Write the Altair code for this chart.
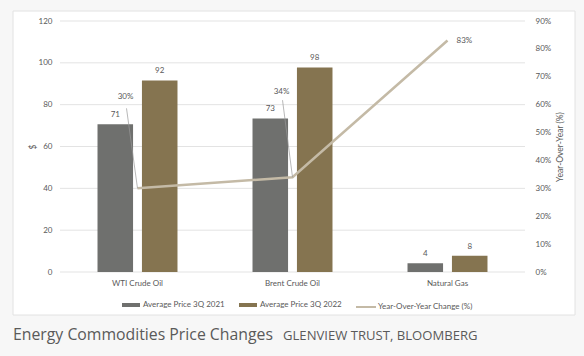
import altair as alt
import pandas as pd

# ---- data ----
categories = ["WTI Crude Oil", "Brent Crude Oil", "Natural Gas"]
price_2021 = [70.6, 73.4, 4.2]
price_2022 = [91.6, 97.8, 7.8]
yoy_change = [0.30, 0.34, 0.83]
bar_series = ["Average Price 3Q 2021", "Average Price 3Q 2022"]
line_series = "Year-Over-Year Change (%)"
left_ticks = [0, 20, 40, 60, 80, 100, 120]
right_ticks = [0, 0.1, 0.2, 0.3, 0.4, 0.5, 0.6, 0.7, 0.8, 0.9]
title_text = "Energy Commodities Price Changes"
source_text = "GLENVIEW TRUST, BLOOMBERG"

bars_df = pd.DataFrame({
    "category": categories * 2,
    "series": [bar_series[0]] * 3 + [bar_series[1]] * 3,
    "price": price_2021 + price_2022,
})
line_df = pd.DataFrame({
    "category": categories,
    "yoy": yoy_change,
    "series": [line_series] * 3,
})
grid_df = pd.DataFrame({"price": left_ticks})

GRAY = "#6f706e"
BROWN = "#857450"
LINE = "#c4baa6"
TXT = "#595959"
FONT = "Lato"
FS = 8

x_scale = alt.Scale(paddingInner=0.484, paddingOuter=0.242)
x_axis = alt.Axis(title=None, domain=False, ticks=False, labelAngle=0, zindex=1,
                  labelPadding=7, labelFont=FONT, labelFontSize=FS, labelColor=TXT)
x_enc = alt.X("category:N", sort=categories, scale=x_scale, axis=x_axis)

left_scale = alt.Scale(domain=[0, 120], nice=False)
y_left = alt.Y(
    "price:Q", scale=left_scale,
    axis=alt.Axis(values=left_ticks, title="$", grid=False, zindex=1,
                  domain=False, ticks=False, labelPadding=8, labelFont=FONT,
                  labelFontSize=FS, labelColor=TXT, titleFont=FONT,
                  titleFontSize=8.5, titleFontWeight="normal", titleColor=TXT,
                  titlePadding=1),
)

gridlines = alt.Chart(grid_df).mark_rule(color="#e3e3e3", strokeWidth=1).encode(
    y=y_left
)

x_off = alt.XOffset("series:N", sort=bar_series,
                    scale=alt.Scale(paddingInner=0.2, paddingOuter=0))

bars = alt.Chart(bars_df).mark_bar().encode(
    x=x_enc,
    xOffset=x_off,
    y=y_left,
    color=alt.Color(
        "series:N", sort=bar_series,
        scale=alt.Scale(domain=bar_series, range=[GRAY, BROWN]),
        legend=alt.Legend(orient="none", legendX=62, legendY=275, direction="horizontal",
                          title=None, symbolType="M-1,-0.22L1,-0.22L1,0.22L-1,0.22Z",
                          symbolSize=324, symbolStrokeWidth=0, labelFont=FONT,
                          labelFontSize=FS, labelColor=TXT, labelOffset=3,
                          columnPadding=14),
    ),
)
bar_text = alt.Chart(bars_df).mark_text(
    dy=-9, font=FONT, fontSize=FS, color=TXT
).encode(
    x=x_enc,
    xOffset=x_off,
    y=y_left,
    text=alt.Text("price:Q", format=".0f"),
)
bar_layer = alt.layer(gridlines, bars, bar_text)

y_right = alt.Y(
    "yoy:Q", scale=alt.Scale(domain=[0, 0.9], nice=False),
    axis=alt.Axis(orient="right", values=right_ticks, format=".0%", zindex=1,
                  title="Year-Over-Year (%)", grid=False, domain=False, ticks=False,
                  labelPadding=10, labelFont=FONT, labelFontSize=FS, labelColor=TXT,
                  titleFont=FONT, titleFontSize=8.5, titleFontWeight="normal",
                  titleColor=TXT, titleAngle=270, titlePadding=14),
)

line = alt.Chart(line_df).mark_line(strokeWidth=2.5).encode(
    x=x_enc,
    y=y_right,
    color=alt.Color(
        "series:N",
        scale=alt.Scale(domain=[line_series], range=[LINE]),
        legend=alt.Legend(orient="none", legendX=295, legendY=275, title=None,
                          symbolType="stroke", symbolSize=400,
                          symbolStrokeWidth=2, labelFont=FONT, labelFontSize=FS,
                          labelColor=TXT, labelOffset=1),
    ),
)


def leader(cat, dx, dy):
    return alt.Chart(line_df).transform_filter(alt.datum.category == cat).mark_rule(
        color="#9a9a9a", strokeWidth=0.7, x2Offset=dx, y2Offset=dy
    ).encode(
        x=alt.X("category:N", sort=categories, bandPosition=0.5, scale=x_scale,
                axis=x_axis),
        x2=alt.X2("category:N", bandPosition=0.5),
        y=y_right,
        y2="yoy:Q",
    )


def label(cat, dx, dy, align):
    return alt.Chart(line_df).transform_filter(alt.datum.category == cat).mark_text(
        dx=dx, dy=dy, align=align, font=FONT, fontSize=FS, color=TXT
    ).encode(
        x=x_enc,
        y=y_right,
        text=alt.Text("yoy:Q", format=".0%"),
    )


line_layer = alt.layer(
    line,
    leader(categories[0], -11, -80),
    leader(categories[1], -10, -77),
    label(categories[0], -12, -91, "center"),
    label(categories[1], -11, -85, "center"),
    label(categories[2], 9, 0, "left"),
)

one = alt.Data(values=[{}])
frame = alt.Chart(one).mark_rect(fill="white", stroke="#e2e2e2", strokeWidth=1).encode(
    x=alt.value(-47), x2=alt.value(515), y=alt.value(-10), y2=alt.value(294)
)
title_mark = alt.Chart(one).mark_text(
    align="left", baseline="middle", font="Open Sans", fontSize=15.8, color="#5a5a5a"
).encode(x=alt.value(-47), y=alt.value(314), text=alt.value(title_text))
source_mark = alt.Chart(one).mark_text(
    align="left", baseline="middle", font="Open Sans", fontSize=13.1, color="#5a5a5a"
).encode(x=alt.value(223), y=alt.value(315), text=alt.value(source_text))

chart = alt.layer(frame, bar_layer, line_layer, title_mark, source_mark).resolve_scale(
    y="independent", color="independent"
).properties(
    width=465, height=251,
    autosize=alt.AutoSizeParams(type="none"),
    padding={"left": 60, "top": 21, "right": 59, "bottom": 84},
    background="#f7f7f7",
).configure_view(stroke=None)

chart.save("out.html", embed_options={"renderer": "svg", "actions": False})
